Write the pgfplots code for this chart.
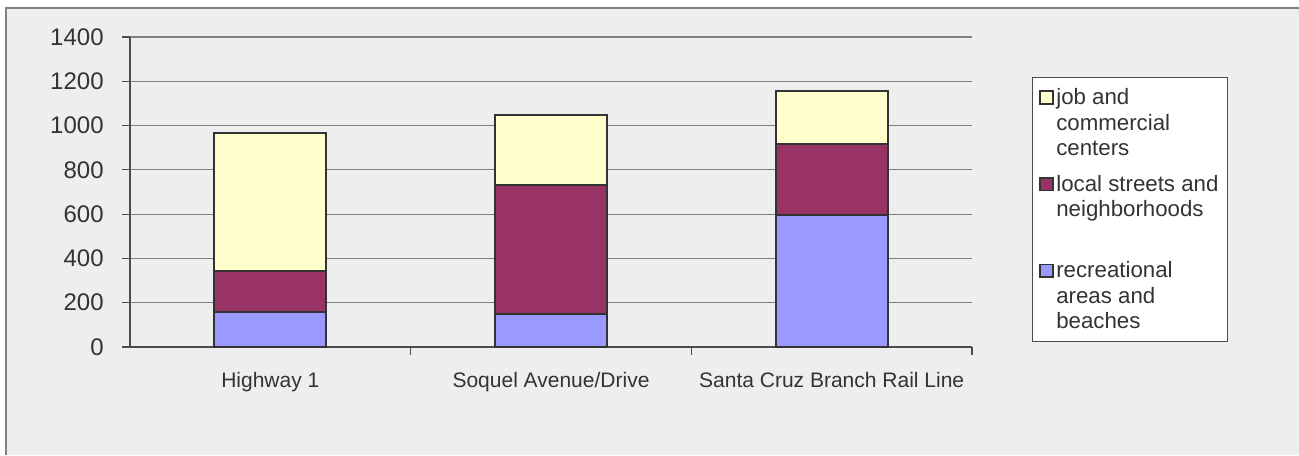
\documentclass[border=0pt]{standalone}
\usepackage{fontspec}
\setmainfont{Liberation Sans}
\usepackage{pgfplots}
\pgfplotsset{compat=1.18}
\definecolor{bg}{HTML}{EEEEEE}
\definecolor{cyel}{HTML}{FFFFCC}
\definecolor{cmar}{HTML}{993366}
\definecolor{cblu}{HTML}{9999FF}
\definecolor{txt}{HTML}{333333}
\definecolor{edge}{HTML}{333333}
\definecolor{gridc}{HTML}{808080}
\pgfplotsset{legsq/.style={legend image code/.code={\draw[##1, draw=edge, line width=1.4pt] (0pt,-13.8pt) rectangle (9.4pt,-4.4pt);}}}
\begin{document}
\begin{tikzpicture}[x=0.75pt,y=0.75pt]
\useasboundingbox (0,0) rectangle (1299,455);
\fill[white] (0,0) rectangle (1299,455);
\fill[bg] (5.5,0) rectangle (1299,447.5);
\draw[gridc, line width=1.5pt] (5.5,0) -- (5.5,447.5) -- (1299,447.5);
\begin{axis}[
  at={(97.5pt,81pt)}, anchor=south west,
  scale only axis, width=631.5pt, height=232.5pt,
  ybar stacked, bar width=84pt,
  xmin=-0.5, xmax=2.5, ymin=0, ymax=1400,
  ytick distance=200,
  axis lines=left, axis line style={draw=black!70, line width=0.8pt, -},
  xtick={0.5,1.5,2.5}, xticklabels={},
  extra x ticks={0,1,2},
  extra x tick labels={Highway 1,Soquel Avenue/Drive,Santa Cruz Branch Rail Line},
  extra x tick style={major tick length=0pt, grid=none,
     tick label style={font=\fontsize{15.75}{18}\selectfont, text=txt, yshift=-15.5pt}},
  tick align=outside, major tick length=6pt,
  tick style={draw=black!70, line width=0.8pt},
  ymajorgrids, major grid style={draw=gridc, line width=0.9pt},
  /pgf/number format/assume math mode=true,
  /pgf/number format/1000 sep={},
  yticklabel style={font=\fontsize{18}{20}\selectfont, text=txt, xshift=-10.25pt},
  reverse legend,
  legend style={at={(1.0713,0.871)}, anchor=north west, draw=black!70, line width=0.8pt, fill=white,
     font=\fontsize{16.7}{19.1}\selectfont, text=txt,
     cells={anchor=north west, align=left, inner ysep=2pt}, row sep=8.7pt, inner xsep=5pt, inner ysep=6pt},
]
\addplot[fill=cblu, draw=edge, line width=1.4pt, legsq] coordinates {(0,160) (1,148) (2,596)};
\addlegendentry{recreational\\areas and\\beaches}
\addplot[fill=cmar, draw=edge, line width=1.4pt, legsq] coordinates {(0,183) (1,582) (2,319)};
\addlegendentry{local streets and\\neighborhoods\\\mbox{}}
\addplot[fill=cyel, draw=edge, line width=1.4pt, legsq] coordinates {(0,625) (1,316) (2,240)};
\addlegendentry{job and\\commercial\\centers}
\end{axis}
\end{tikzpicture}
\end{document}
